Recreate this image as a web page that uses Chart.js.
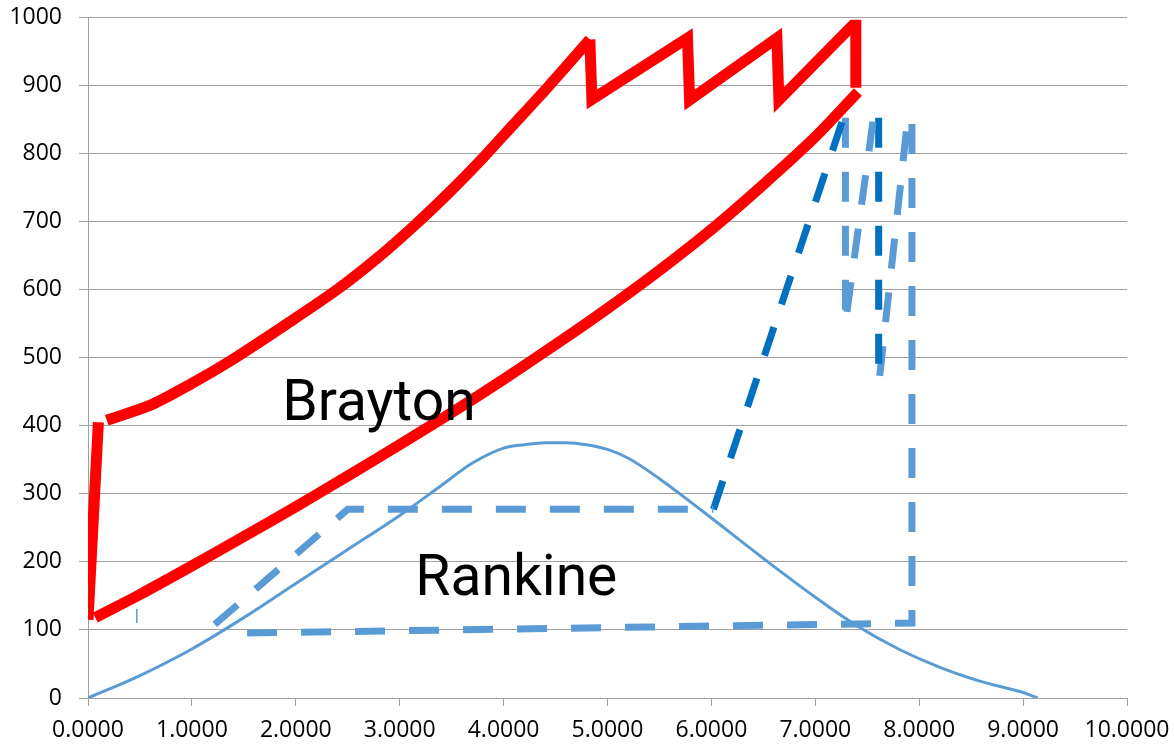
<!DOCTYPE html>
<html>
<head>
<meta charset="utf-8">
<script src="https://cdn.jsdelivr.net/npm/chart.js@4"></script>
<style>
  html, body { margin: 0; padding: 0; background: #fff; }
</style>
</head>
<body>
<canvas id="chart" width="1174" height="749"></canvas>
<script>
/* Red Brayton cycle, split in pieces as in the picture. */
const braytonCompX = [0.0, 0.10]
const braytonCompY = [115, 405]

const braytonHotX = [0.18, 0.6, 1.0, 1.39, 1.9, 2.4, 2.8, 3.15, 3.5, 3.8, 4.1, 4.42, 4.83]
const braytonHotY = [408, 430, 462, 497, 548, 600, 648, 695, 746, 793, 843, 896, 967]

const braytonSawX = [4.83, 4.85, 5.77, 5.79, 6.63, 6.65, 7.36, 7.39, 7.39]
const braytonSawY = [967, 879, 969, 878, 969, 878, 988, 988, 896]

const braytonColdX = [7.41, 7.0, 6.5, 6.0, 5.5, 5.0, 4.5, 4.0, 3.5, 3.0, 2.5, 2.0,
  1.5, 1.0, 0.5, 0.07]
const braytonColdY = [890, 824, 754, 688, 628, 572, 519, 468, 419, 372, 326, 281,
  237, 194, 152, 118]

/* Saturation dome (thin blue line). */
const domeX = [0, 0.5, 1.0, 1.5, 2.0, 2.5, 3.0, 3.4, 3.7, 4.0, 4.2, 4.4, 4.6, 4.8,
  5.0, 5.2, 5.5, 5.9, 6.5, 7.0, 7.4, 7.8, 8.2, 8.6, 9.0, 9.14]
const domeY = [0, 33, 72, 118, 168, 218, 268, 312, 345, 367, 372, 375, 375, 372,
  365, 352, 322, 276, 205, 148, 106, 72, 45, 24, 8, 0]

/* Rankine cycle, dashed pieces. */
const rankineBoilX = [1.22, 2.5, 6.02]
const rankineBoilY = [108, 277, 277]

const rankineSuperX = [6.02, 7.27]
const rankineSuperY = [277, 852]

const rankineHpX = [7.29, 7.29, 7.56]
const rankineHpY = [852, 551, 852]

const rankineIpX = [7.61, 7.61]
const rankineIpY = [852, 473]

const rankineLpX = [7.62, 7.89, 7.93, 7.93, 1.33]
const rankineLpY = [473, 852, 852, 110, 95]

/* Tiny stray mark near the origin. */
const markX = [0.47, 0.47]
const markY = [110, 131]

/* Text labels inside the chart (left x, baseline y). */
const labelTexts = ["Brayton", "Rankine"]
const labelX = [1.87, 3.15]
const labelY = [408, 151]

/* Axis ranges. */
const xMin = 0
const xMax = 10
const yMin = 0
const yMax = 1000

const toPoints = (xs, ys) => xs.map((x, i) => ({ x: x, y: ys[i] }))

const red = "rgb(255, 0, 0)"
const lightBlue = "rgb(91, 155, 213)"
const darkBlue = "rgb(0, 112, 192)"
const dash = [30, 24]

const line = (xs, ys, color, width, extra) => Object.assign({
  data: toPoints(xs, ys),
  showLine: true,
  borderColor: color,
  backgroundColor: color,
  borderWidth: width,
  pointRadius: 0,
  pointHoverRadius: 0,
  tension: 0
}, extra || {})

/* Plugin that writes the cycle names. */
const cycleLabels = {
  id: "cycleLabels",
  afterDatasetsDraw(chart) {
    const ctx = chart.ctx
    const xs = chart.scales.x
    const ys = chart.scales.y
    ctx.save()
    ctx.fillStyle = "#000"
    ctx.font = "57px Roboto"
    ctx.textAlign = "left"
    ctx.textBaseline = "alphabetic"
    labelTexts.forEach((text, i) => {
      ctx.fillText(text, xs.getPixelForValue(labelX[i]), ys.getPixelForValue(labelY[i]))
    })
    ctx.restore()
  }
}

/* Keep the plot area where the picture has it. */
const noScalePadding = scale => {
  scale.paddingTop = 0
  scale.paddingBottom = 0
  scale.paddingLeft = 0
  scale.paddingRight = 0
}

const gridGray = "#a0a0a0"
const tickFont = { family: "'Open Sans'", size: 23 }

const chart = new Chart(document.getElementById("chart"), {
  type: "scatter",
  data: {
    datasets: [
      line(braytonCompX, braytonCompY, red, 11),
      line(braytonHotX, braytonHotY, red, 11, { tension: 0.3 }),
      line(braytonSawX, braytonSawY, red, 11),
      line(braytonColdX, braytonColdY, red, 11, { tension: 0.3 }),
      line(rankineBoilX, rankineBoilY, lightBlue, 7, { borderDash: dash }),
      line(rankineSuperX, rankineSuperY, darkBlue, 7, { borderDash: dash }),
      line(rankineHpX, rankineHpY, lightBlue, 7, { borderDash: dash }),
      line(rankineIpX, rankineIpY, darkBlue, 7, { borderDash: dash }),
      line(rankineLpX, rankineLpY, lightBlue, 7, { borderDash: dash }),
      line(domeX, domeY, lightBlue, 3, { cubicInterpolationMode: "monotone" }),
      line(markX, markY, lightBlue, 1.5)
    ]
  },
  options: {
    responsive: false,
    animation: false,
    events: [],
    layout: {
      padding: { top: 17, right: 47, left: 0, bottom: 0 }
    },
    plugins: {
      legend: { display: false },
      tooltip: { enabled: false }
    },
    scales: {
      x: {
        type: "linear",
        min: xMin,
        max: xMax,
        afterFit: scale => {
          scale.height = 51
          noScalePadding(scale)
        },
        ticks: {
          stepSize: 1,
          color: "#000",
          font: tickFont,
          padding: 11,
          maxRotation: 0,
          callback: value => value.toFixed(4)
        },
        grid: {
          drawOnChartArea: false,
          drawTicks: true,
          tickLength: 8,
          color: gridGray,
          lineWidth: 1
        },
        border: { display: true, color: gridGray, width: 1 }
      },
      y: {
        type: "linear",
        min: yMin,
        max: yMax,
        afterFit: scale => {
          scale.width = 88
          noScalePadding(scale)
        },
        ticks: {
          stepSize: 100,
          color: "#000",
          font: tickFont,
          padding: 17,
          callback: value => String(value)
        },
        grid: {
          color: gridGray,
          lineWidth: 1,
          tickLength: 9
        },
        border: { display: true, color: gridGray, width: 1 }
      }
    }
  },
  plugins: [cycleLabels]
})
</script>
</body>
</html>
